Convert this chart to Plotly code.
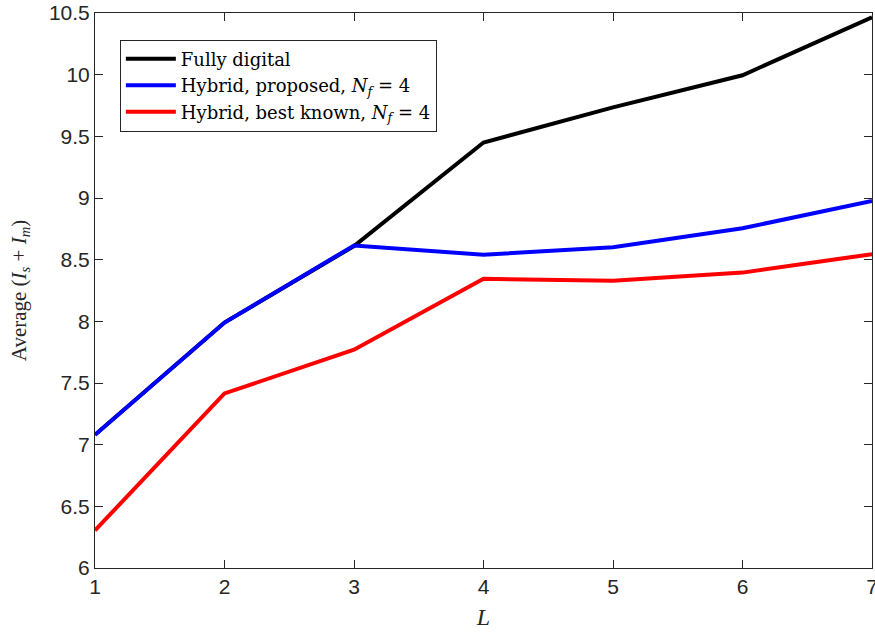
import plotly.graph_objects as go

# Number of paths L
L = [1, 2, 3, 4, 5, 6, 7]

# Average (I_s + I_m) for each architecture
fully_digital = [7.08, 7.99, 8.61, 9.45, 9.735, 9.995, 10.465]
hybrid_proposed = [7.08, 7.99, 8.615, 8.54, 8.60, 8.755, 8.975]
hybrid_best_known = [6.305, 7.415, 7.77, 8.345, 8.33, 8.395, 8.545]

series = [
    ("Fully digital", fully_digital, "#000000"),
    ("Hybrid, proposed, <i>N</i><sub><i>f</i></sub> = 4", hybrid_proposed, "#0000ff"),
    ("Hybrid, best known, <i>N</i><sub><i>f</i></sub> = 4", hybrid_best_known, "#ff0000"),
]

fig = go.Figure()
for name, vals, color in series:
    fig.add_trace(go.Scatter(
        x=L, y=vals, mode="lines", name=name,
        line=dict(color=color, width=4),
    ))

SERIF = "Liberation Serif, Times New Roman, serif"

axis_common = dict(
    showgrid=False, zeroline=False, automargin=False,
    showline=True, linecolor="#262626", linewidth=1, mirror="ticks",
    ticks="inside", ticklen=8, tickcolor="#262626", tickwidth=1,
    ticklabeloverflow="allow",
    tickfont=dict(family="Liberation Sans, Arial, sans-serif", size=21, color="#262626"),
)

fig.update_layout(
    width=875, height=635,
    margin=dict(l=95, r=3, t=13, b=67),
    paper_bgcolor="white", plot_bgcolor="white",
    showlegend=True,
    legend=dict(
        x=0.032, y=0.952, xanchor="left", yanchor="top",
        bgcolor="white", bordercolor="#262626", borderwidth=1,
        font=dict(family="DejaVu Serif, serif", size=18, color="#000000"),
        tracegroupgap=0, itemwidth=50,
    ),
    xaxis=dict(
        range=[1, 7], tickvals=L, ticktext=[str(v) for v in L],
        title=dict(text="<i>L</i>", standoff=10,
                   font=dict(family=SERIF, size=24, color="#262626")),
        **axis_common,
    ),
    yaxis=dict(
        range=[6, 10.5], tickvals=[6, 6.5, 7, 7.5, 8, 8.5, 9, 9.5, 10, 10.5],
        ticktext=["6", "6.5", "7", "7.5", "8", "8.5", "9", "9.5", "10", "10.5"],
        title=dict(text="Average (<i>I</i><sub><i>s</i></sub> + <i>I</i><sub><i>m</i></sub>)", standoff=16,
                   font=dict(family=SERIF, size=21, color="#262626")),
        **axis_common,
    ),
)

fig.write_html("out.html")
